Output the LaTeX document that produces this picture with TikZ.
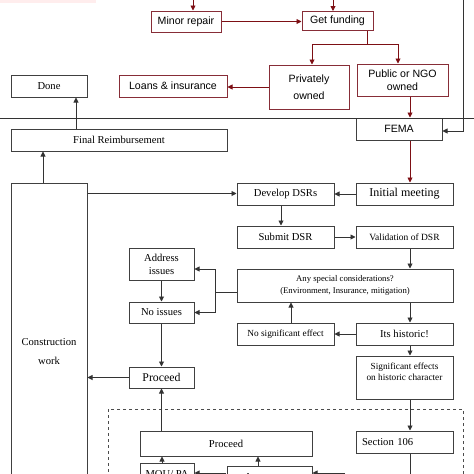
\documentclass[tikz,border=0pt]{standalone}
\usepackage{fontspec}
\setmainfont{Liberation Serif}
\newfontfamily\arialf{Liberation Sans}
\usetikzlibrary{arrows.meta}
\definecolor{rbord}{RGB}{135,45,55}
\definecolor{rline}{RGB}{125,15,20}
\tikzset{
  sz/.style 2 args={minimum width=#1, minimum height=#2},
  box/.style={draw=black!75, line width=1pt, inner sep=0pt, align=center, font=\fontsize{10.6}{12.5}\selectfont},
  rbox/.style={draw=rbord, line width=1pt, inner sep=0pt, align=center, font=\arialf\fontsize{10.6}{12.5}\selectfont},
  arr/.style={draw=black!80, line width=0.9pt, -{Triangle[length=5pt,width=5pt]}},
  rarr/.style={draw=rline, line width=0.9pt, -{Triangle[length=5pt,width=5pt]}},
  plain/.style={draw=black!80, line width=0.9pt},
  rplain/.style={draw=rline, line width=0.9pt},
}
\begin{document}
\begin{tikzpicture}[x=1pt,y=-1pt]
\useasboundingbox (0,0) rectangle (474,474);
\clip (0,0) rectangle (474,474);
\fill[red!7] (0,-2) rectangle (96,3);
% red part
\node[rbox, sz={70}{21}] (minor) at (186,21.5) {Minor repair};
\node[rbox, sz={71}{19}] (funding) at (337.5,21) {Get funding};
\node[rbox, sz={80}{44}] (private) at (309,87) {Privately\\[5pt]owned};
\node[rbox, sz={91}{32}] (public) at (402.5,80) {Public or NGO\\owned};
\node[rbox, sz={108}{22}] (loans) at (173,86) {Loans \& insurance};
% black part
\node[box, sz={76}{22}] (done) at (49,86) {Done};
\node[box, sz={86}{22}, font=\arialf\fontsize{10.6}{12.5}\selectfont] (fema) at (399,129) {FEMA};
\node[box, sz={216}{22}] (final) at (119,140) {Final Reimbursement};
\node[box, sz={76}{338}, font=\fontsize{10.6}{19}\selectfont] (constr) at (49,352) {Construction\\work};
\node[box, sz={97}{22}] (develop) at (285.5,194) {Develop DSRs};
\node[box, sz={97}{22}, font=\fontsize{12}{14}\selectfont] (initial) at (404.5,194) {Initial meeting};
\node[box, sz={97}{22}] (submit) at (285.5,237) {Submit DSR};
\node[box, sz={97}{22}, font=\fontsize{9.5}{11}\selectfont] (valid) at (404.5,237) {Validation of DSR};
\node[box, sz={216}{33}, font=\fontsize{8.7}{12}\selectfont] (any) at (345,285.5) {Any special considerations?\\(Environment, Insurance, mitigation)};
\node[box, sz={65}{32}, font=\fontsize{10.6}{13}\selectfont] (address) at (161.5,264) {Address\\issues};
\node[box, sz={65}{21}] (noiss) at (161.5,312.5) {No issues};
\node[box, sz={97}{22}, font=\fontsize{9.3}{11}\selectfont] (nosig) at (285.5,334) {No significant effect};
\node[box, sz={97}{22}] (hist) at (404.5,334) {Its historic!};
\node[box, sz={97}{43}, font=\fontsize{9.3}{11}\selectfont, text depth=11pt] (sig) at (404.5,377.5) {Significant effects\\on historic character};
\node[box, sz={65}{21}, font=\fontsize{11.8}{14}\selectfont] (proc1) at (161.5,377.5) {Proceed};
\draw[draw=black!70, line width=0.9pt, dashed] (108,409) rectangle (463,495);
\node[box, inner xsep=6pt, text width=85pt, align=left, minimum height=22] (sec) at (404.5,442) {Section 106};
\node[box, sz={172}{25}] (proc2) at (226,443.5) {Proceed};
\node[box, sz={54}{22}] (mou) at (167,474) {MOU/ PA};
\node[box, sz={85}{22}] (assess) at (269.5,477) {Assessment};
% separator
\draw[plain] (0,118) -- (474,118);
% red connectors
\coordinate (mtop) at (193,-6);
\draw[rarr] (mtop) -- ([xshift=7pt]minor.north);
\coordinate (ftop) at (333,-6);
\draw[rarr] (ftop) -- ([xshift=-4.5pt]funding.north);
\draw[rarr] (minor.east) -- (minor.east -| funding.west);
\draw[rplain] ([xshift=29.5pt]funding.south) -- ++(0,13) coordinate (fb);
\draw[rarr] (fb) -| ([xshift=3pt]private.north);
\draw[rarr] (fb) -| ([xshift=-4.5pt]public.north);
\draw[rarr] (private.west) -- (private.west -| loans.east);
\draw[rarr] ([xshift=7.5pt]public.south) -- ([xshift=7.5pt]public.south |- fema.north);
% black connectors
\coordinate (rtop) at (463,-6);
\draw[arr] (rtop) |- ([yshift=-2pt]fema.east);
\draw[rarr] ([xshift=11pt]fema.south) -- ([xshift=11pt]fema.south |- initial.north);
\draw[arr] (initial.west) -- (develop.east);
\draw[arr] ([xshift=-4.5pt]develop.south) -- ([xshift=-4.5pt]submit.north);
\draw[arr] (submit.east) -- (valid.west);
\draw[arr] ([xshift=5.5pt]valid.south) -- ([xshift=5.5pt]valid.south |- any.north);
\draw[arr] ([xshift=5.5pt]hist.north |- any.south) -- ([xshift=5.5pt]hist.north);
\draw[arr] (hist.west) -- (nosig.east);
\draw[arr] ([xshift=5.5pt]hist.south) -- ([xshift=5.5pt]sig.north);
\draw[arr] ([xshift=5.5pt]sig.south) -- ([xshift=5.5pt]sec.north);
\coordinate (secdown) at (410,500);
\draw[arr] ([xshift=5.5pt]sec.south) -- (secdown);
\draw[arr] ([xshift=5.5pt]nosig.north) -- ([xshift=5.5pt]nosig.north |- any.south);
\draw[plain] ([yshift=-6.5pt]any.west) -- ++(-21,0) coordinate (ab);
\draw[arr] (ab) |- ([yshift=-5pt]address.east);
\draw[arr] (ab) |- (noiss.east);
\draw[arr] (address.south) -- (noiss.north);
\draw[arr] (noiss.south) -- (proc1.north);
\draw[arr] (proc1.west) -- (proc1.west -| constr.east);
\draw[arr] (proc1.south |- proc2.north) -- (proc1.south);
\draw[arr] ([xshift=-5pt]mou.north) -- ([xshift=-5pt]mou.north |- proc2.south);
\draw[arr] ([xshift=-11.5pt]assess.north) -- ([xshift=-11.5pt]assess.north |- proc2.south);
\coordinate (mr) at (226,473);
\coordinate (ar) at (345,473);
\draw[arr] (mr) -- (mr -| mou.east);
\draw[arr] (ar) -- (ar -| assess.east);
\draw[arr] ([xshift=-6pt]constr.north) -- ([xshift=-6pt]constr.north |- final.south);
\draw[arr] ([xshift=-43pt]final.north) -- ([xshift=-43pt]final.north |- done.south);
\draw[arr] ([yshift=-11pt]constr.north east) -- ([yshift=-11pt]constr.north east -| develop.west);
\end{tikzpicture}
\end{document}
